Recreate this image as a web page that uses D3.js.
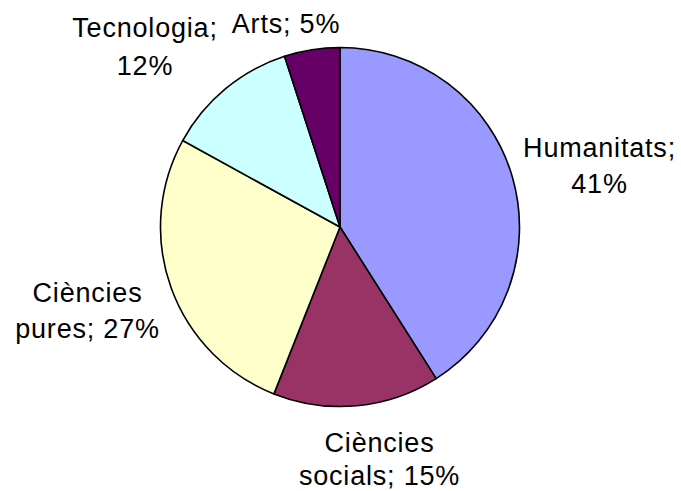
<!DOCTYPE html>
<html>
<head>
<meta charset="utf-8">
<script src="https://cdn.jsdelivr.net/npm/d3@7/dist/d3.min.js"></script>
<style>
  html, body { margin: 0; padding: 0; background: #fff; }
  svg { display: block; }
  text { font-family: "Liberation Sans", Arial, sans-serif; fill: #000; }
</style>
</head>
<body>
<svg id="chart" width="681" height="491"></svg>
<script>
// Slice categories, shares (%) and fills, clockwise from 12 o'clock
const categories = ["Humanitats", "Ciències socials", "Ciències pures", "Tecnologia", "Arts"];
const shares = [41, 15, 27, 12, 5];
const fills = ["#9999FF", "#993366", "#FFFFCC", "#CCFFFF", "#660066"];

// Label lines for each slice
const labelLines = [
  ["Humanitats;", "41%"],
  ["Ciències", "socials; 15%"],
  ["Ciències", "pures; 27%"],
  ["Tecnologia;", "12%"],
  ["Arts; 5%"]
];

// Label layout: offset of the first baseline from the pie centre, and line spacing
const labelLayout = [
  [259.5, -70, 36],
  [39.5, 225, 33],
  [-252.5, 74.5, 36.5],
  [-195, -190.5, 38],
  [-54, -193.7, 36]
];

const cx = 340, cy = 227, radius = 179.5;
const fontSize = 27;

const svg = d3.select("#chart");
const g = svg.append("g").attr("transform", `translate(${cx},${cy})`);

const pie = d3.pie().sort(null).value(d => d.value);
const arc = d3.arc().innerRadius(0).outerRadius(radius);

const data = categories.map((c, i) => ({
  name: c, value: shares[i], fill: fills[i], lines: labelLines[i], layout: labelLayout[i]
}));
const arcs = pie(data);

g.selectAll("path.slice")
  .data(arcs)
  .join("path")
  .attr("class", "slice")
  .attr("d", arc)
  .attr("fill", d => d.data.fill)
  .attr("stroke", "#000")
  .attr("stroke-width", 1.6)
  .attr("stroke-linejoin", "round");

const labels = g.selectAll("text.label")
  .data(arcs)
  .join("text")
  .attr("class", "label")
  .attr("text-anchor", "middle")
  .attr("font-size", fontSize)
  .attr("letter-spacing", "0.8px")
  .attr("transform", d => `translate(${d.data.layout[0]},${d.data.layout[1]})`);

labels.selectAll("tspan")
  .data(d => d.data.lines.map((t, i) => ({ t, i, gap: d.data.layout[2] })))
  .join("tspan")
  .attr("x", 0)
  .attr("y", d => d.i * d.gap)
  .text(d => d.t);
</script>
</body>
</html>
